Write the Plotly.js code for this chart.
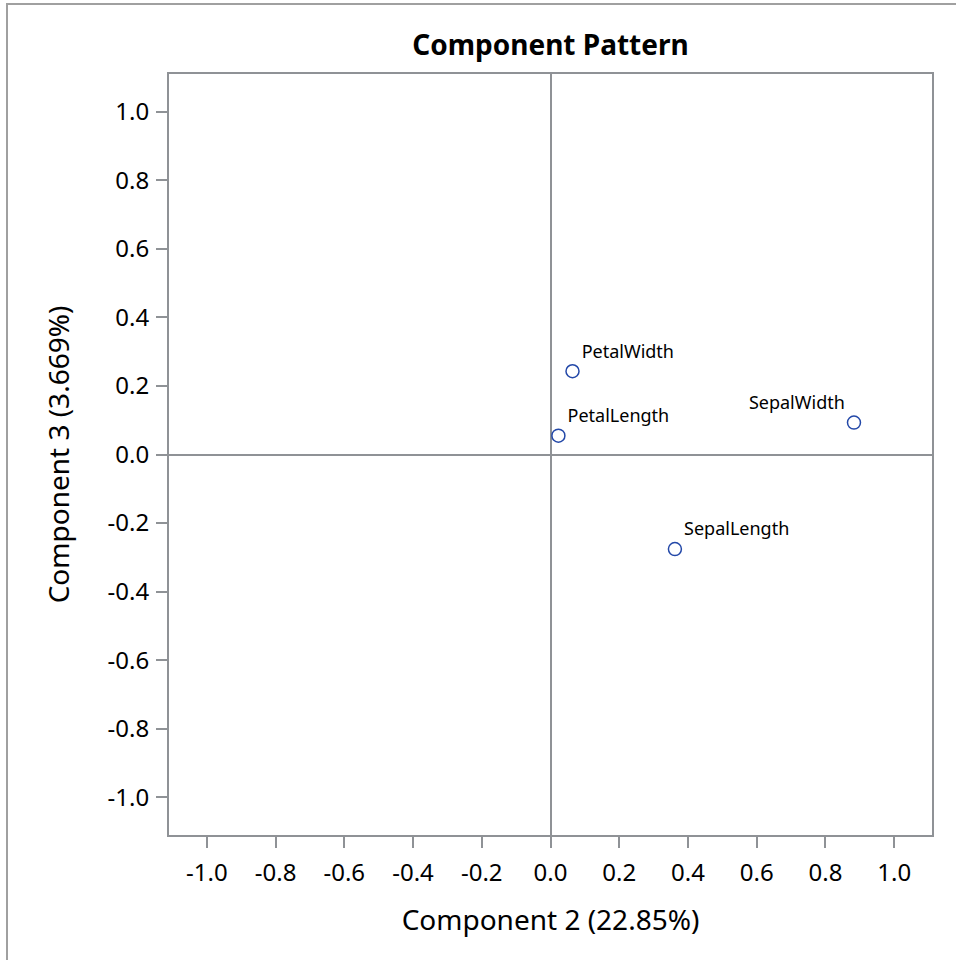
<!DOCTYPE html>
<html>
<head>
<meta charset="utf-8">
<script src="https://cdn.plot.ly/plotly-3.0.1.min.js"></script>
<style>
  html, body { margin: 0; padding: 0; background: #ffffff; }
  #frame {
    position: absolute; left: 6px; top: 3px; width: 960px; height: 970px;
    border-left: 2px solid #a0a0a0; border-top: 2px solid #a0a0a0;
    box-sizing: border-box; pointer-events: none; z-index: 2;
  }
  #chart { position: absolute; left: 0; top: 0; width: 956px; height: 960px; }
  body { width: 956px; height: 960px; overflow: hidden; position: relative; }
</style>
</head>
<body>
<div id="chart"></div>
<div id="frame"></div>
<script>
// Component pattern: correlations of each variable with components 2 and 3
const variables = ["SepalLength", "SepalWidth", "PetalLength", "PetalWidth"];
const component2 = [0.362, 0.883, 0.023, 0.064];
const component3 = [-0.276, 0.093, 0.055, 0.243];
const labelSide = ["top right", "top left", "top right", "top right"];
const tickValues = [-1.0, -0.8, -0.6, -0.4, -0.2, 0.0, 0.2, 0.4, 0.6, 0.8, 1.0];
const tickLabels = ["-1.0", "-0.8", "-0.6", "-0.4", "-0.2", "0.0", "0.2", "0.4", "0.6", "0.8", "1.0"];

const FONT = "'Noto Sans', 'Open Sans', sans-serif";
const GREY = "#8f9296";

const trace = {
  type: "scatter",
  mode: "markers+text",
  x: component2,
  y: component3,
  text: variables,
  textposition: labelSide,
  textfont: { family: FONT, size: 18, color: "#000000" },
  marker: {
    symbol: "circle-open",
    size: 13,
    color: "#2348a8",
    line: { width: 1.5, color: "#2348a8" }
  },
  cliponaxis: false,
  hoverinfo: "x+y+text"
};

function axis(titleText) {
  return {
    range: [-1.11, 1.11],
    tickmode: "array",
    tickvals: tickValues,
    ticktext: tickLabels,
    ticks: "outside",
    ticklen: 11,
    tickwidth: 2,
    tickcolor: GREY,
    tickfont: { family: FONT, size: 24, color: "#000000" },
    showgrid: false,
    zeroline: true,
    zerolinecolor: GREY,
    zerolinewidth: 2,
    showline: true,
    linecolor: GREY,
    linewidth: 2,
    mirror: true,
    automargin: false,
    title: { text: titleText, font: { family: FONT, size: 28, color: "#000000" } }
  };
}

const xa = axis("Component 2 (22.85%)");
xa.title.standoff = 24;
xa.ticklabelstandoff = 4;
const ya = axis("Component 3 (3.669%)");
ya.title.standoff = 30;
ya.ticklabelstandoff = 2;

const layout = {
  width: 956,
  height: 960,
  margin: { l: 169, r: 24, t: 74, b: 125 },
  paper_bgcolor: "#ffffff",
  plot_bgcolor: "#ffffff",
  showlegend: false,
  title: {
    text: "<b>Component Pattern</b>",
    font: { family: FONT, size: 28, color: "#000000" },
    x: 0.5,
    xref: "paper",
    xanchor: "center",
    y: 1 - 45 / 960,
    yref: "container",
    yanchor: "middle"
  },
  xaxis: xa,
  yaxis: ya
};

Plotly.newPlot("chart", [trace], layout, { displayModeBar: false, staticPlot: true });
</script>
</body>
</html>
